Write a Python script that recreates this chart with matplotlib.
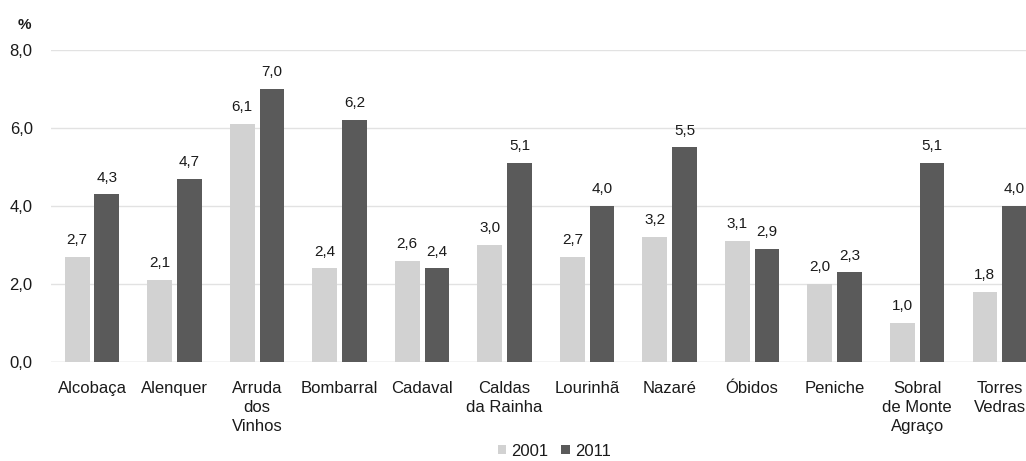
import matplotlib
matplotlib.use("Agg")
import matplotlib.pyplot as plt
import numpy as np

plt.rcParams['font.family'] = ['Liberation Sans', 'DejaVu Sans']

categories = ["Alcobaça", "Alenquer", "Arruda\ndos\nVinhos", "Bombarral", "Cadaval",
              "Caldas\nda Rainha", "Lourinhã", "Nazaré", "Óbidos", "Peniche",
              "Sobral\nde Monte\nAgraço", "Torres\nVedras"]
v2001 = [2.7, 2.1, 6.1, 2.4, 2.6, 3.0, 2.7, 3.2, 3.1, 2.0, 1.0, 1.8]
v2011 = [4.3, 4.7, 7.0, 6.2, 2.4, 5.1, 4.0, 5.5, 2.9, 2.3, 5.1, 4.0]
series_names = ["2001", "2011"]
yticks = [0, 2, 4, 6, 8]

c_light = "#d2d2d2"
c_dark = "#5a5a5a"
txt = "#1a1a1a"

fig = plt.figure(figsize=(10.26, 4.61), dpi=100)
W, H = 1026, 461
left = 50.75 / W
right = 1041.0 / W
bottom = (H - 362) / H
top = (H - 50) / H
ax = fig.add_axes([left, bottom, right - left, top - bottom])

x = np.arange(len(categories))
bw = 0.30
off = 0.18
b1 = ax.bar(x - off, v2001, bw, color=c_light, label=series_names[0], zorder=3)
b2 = ax.bar(x + off, v2011, bw, color=c_dark, label=series_names[1], zorder=3)

def fmt(v):
    return f"{v:.1f}".replace(".", ",")

for rects, vals in ((b1, v2001), (b2, v2011)):
    for r, v in zip(rects, vals):
        ax.annotate(fmt(v), (r.get_x() + r.get_width() / 2, v), xytext=(0, 7),
                    textcoords="offset points", ha="center", va="bottom",
                    fontsize=11, color=txt, zorder=4)

ax.set_xlim(-0.5, len(categories) - 0.5)
ax.set_ylim(0, 8)
ax.set_yticks(yticks)
ax.set_yticklabels([fmt(v) for v in yticks], fontsize=12, color=txt)
ax.set_xticks(x)
ax.set_xticklabels(categories, fontsize=12, color=txt, linespacing=1.3)
ax.tick_params(axis="x", length=0, pad=14)
ax.tick_params(axis="y", length=0, pad=13)
ax.grid(axis="y", color="#e2e2e2", linewidth=1.0, zorder=0)
for s in ax.spines.values():
    s.set_visible(False)
ax.axhline(0, color="#dddddd", linewidth=1.0, zorder=2)

fig.text(24 / W, (H - 25) / H, "%", fontsize=11, fontweight="bold", color=txt,
         ha="center", va="center")

fig.legend(handles=[b1, b2], labels=series_names, loc="center",
           bbox_to_anchor=(554 / W, (H - 451) / H), ncol=2, frameon=False,
           fontsize=12, handlelength=0.5, handleheight=0.5, handletextpad=0.3,
           columnspacing=0.8, labelcolor=txt)

fig.savefig("out.png", dpi=100)
